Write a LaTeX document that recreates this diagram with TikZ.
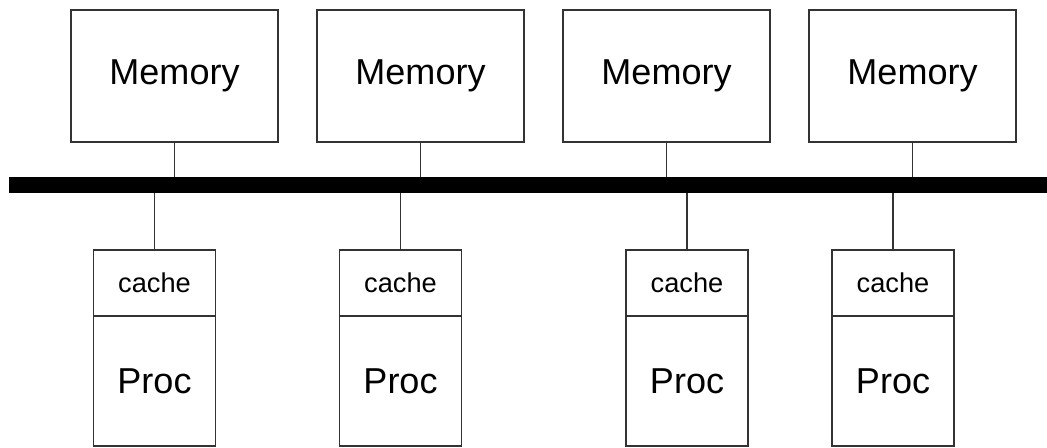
\documentclass[tikz,border=0pt]{standalone}
\usepackage{fontspec}
\setmainfont{Liberation Sans}
\usetikzlibrary{positioning}
\tikzset{
  membox/.style={draw=black!80, line width=1pt, minimum width=4.14cm, minimum height=2.64cm, font=\fontsize{20.5}{24}\selectfont},
  cachebox/.style={draw=black!80, line width=1pt, minimum width=2.44cm, minimum height=1.32cm, font=\fontsize{15.5}{18}\selectfont},
  procbox/.style={draw=black!80, line width=1pt, minimum width=2.44cm, minimum height=2.6cm, font=\fontsize{20.5}{24}\selectfont},
  link/.style={draw=black!80, line width=1pt}
}
\begin{document}
\begin{tikzpicture}
	\useasboundingbox (0,0) rectangle (20.94,-8.96);
	% the bus
	\node[fill=black, inner sep=0pt, minimum height=.31cm, minimum width=20.76cm] (bus) at (10.56,-3.705) {};
	% memories above the bus
	\foreach \x [count=\i] in {3.49,8.41,13.33,18.25}{
		\node[membox] (mem\i) at (\x,-1.52) {Memory};
		\draw[link] (mem\i.south) -- (mem\i.south |- bus.north);
	}
	% processors with their caches below it
	\foreach \x [count=\i] in {3.09,8.01,13.74,17.86}{
		\node[cachebox] (cache\i) at (\x,-5.66) {cache};
		\node[procbox, below=-1pt of cache\i] (proc\i) {Proc};
		\draw[link] (cache\i.north) -- (cache\i.north |- bus.south);
	}
\end{tikzpicture}
\end{document}
